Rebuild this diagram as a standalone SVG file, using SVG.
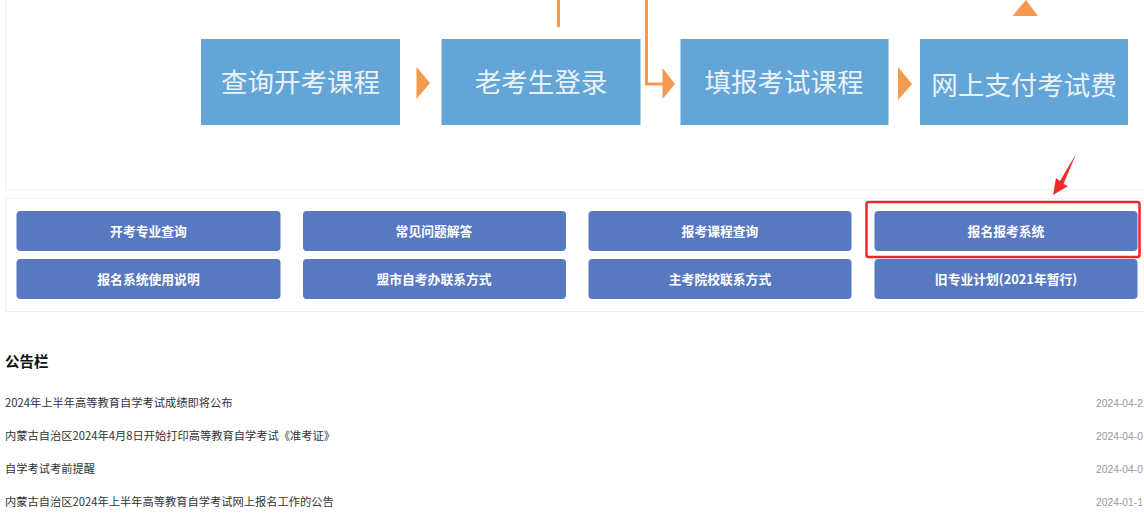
<svg xmlns="http://www.w3.org/2000/svg" width="1144" height="523" viewBox="0 0 1144 523">
<style>
text{font-family:"Noto Sans CJK SC","Noto Sans",sans-serif}
.flow rect{fill:#64a5d7}
.flow text{fill:#e8f1f8;font-size:26.500px;text-anchor:middle;dominant-baseline:central}
.btn rect{fill:#5879c1}
.btn text{fill:#fff;font-size:12.800px;font-weight:700;text-anchor:middle;dominant-baseline:central}
.item{font-size:11.250px;fill:#333}
.date{font-size:10.300px;fill:#999;font-family:"Liberation Sans",sans-serif}
.orange{fill:#f5994e}
.panel{fill:#fff;stroke:#f0f0f0;stroke-width:1}
</style>
<rect width="1144" height="523" fill="#fff"/>
<rect class="panel" x="5.500" y="-10" width="1150" height="200"/>
<rect class="panel" x="5.500" y="198.500" width="1150" height="113"/>
<g id="node-flow-1" class="flow"><rect x="201" y="39" width="199" height="86"/><text x="300.500" y="80.500">查询开考课程</text></g>
<g id="node-flow-2" class="flow"><rect x="441.500" y="39" width="199" height="86"/><text x="541" y="80.500">老考生登录</text></g>
<g id="node-flow-3" class="flow"><rect x="680.500" y="39" width="208" height="86"/><text x="784" y="80.500">填报考试课程</text></g>
<g id="node-flow-4" class="flow"><rect x="920" y="39" width="208" height="86"/><text x="1024" y="83.500">网上支付考试费</text></g>
<g id="connectors">
<polygon class="orange" points="416.500,67 430,83 416.500,99"/>
<path d="M558.500 0V27" stroke="#f5994e" stroke-width="3" fill="none"/>
<path d="M646.500 0V84H664" stroke="#f5994e" stroke-width="3" fill="none"/>
<polygon class="orange" points="662.500,68 675,84 662.500,99"/>
<polygon class="orange" points="898,67 912,84 898,100"/>
<polygon class="orange" points="1012.500,16 1026,0 1038,16"/>
<path d="M1076 154 1063.500 184 1068 186 1053 195 1056 178 1060 181Z" fill="#f22a2a"/>
</g>
<g id="btn-1" class="btn"><rect x="16.500" y="211" width="264" height="40" rx="4"/><text x="148.500" y="230.500">开考专业查询</text></g>
<g id="btn-2" class="btn"><rect x="303" y="211" width="263" height="40" rx="4"/><text x="434" y="230.500">常见问题解答</text></g>
<g id="btn-3" class="btn"><rect x="588.500" y="211" width="263" height="40" rx="4"/><text x="720" y="230.500">报考课程查询</text></g>
<g id="btn-4" class="btn"><rect x="874.500" y="211" width="263" height="40" rx="4"/><text x="1006" y="230.500">报名报考系统</text></g>
<g id="btn-5" class="btn"><rect x="16.500" y="259" width="264" height="40" rx="4"/><text x="148.500" y="278.500">报名系统使用说明</text></g>
<g id="btn-6" class="btn"><rect x="303" y="259" width="263" height="40" rx="4"/><text x="434" y="278.500">盟市自考办联系方式</text></g>
<g id="btn-7" class="btn"><rect x="588.500" y="259" width="263" height="40" rx="4"/><text x="720" y="278.500">主考院校联系方式</text></g>
<g id="btn-8" class="btn"><rect x="874.500" y="259" width="263" height="40" rx="4"/><text x="1006" y="278.500">旧专业计划(2021年暂行)</text></g>
<rect id="highlight" x="866.500" y="202" width="273" height="55" rx="2" fill="none" stroke="#ea2a2a" stroke-width="2.500"/>
<text x="5" y="366.500" style="font-size:14.500px;font-weight:700;fill:#111">公告栏</text>
<g id="notices">
<text class="item" x="5" y="407">2024年上半年高等教育自学考试成绩即将公布</text>
<text class="item" x="5" y="440">内蒙古自治区2024年4月8日开始打印高等教育自学考试《准考证》</text>
<text class="item" x="5" y="472.500">自学考试考前提醒</text>
<text class="item" x="5" y="505.500">内蒙古自治区2024年上半年高等教育自学考试网上报名工作的公告</text>
<text class="date" x="1096" y="407">2024-04-2</text>
<text class="date" x="1096" y="440">2024-04-0</text>
<text class="date" x="1096" y="472.500">2024-04-0</text>
<text class="date" x="1096" y="505.500">2024-01-1</text>
</g>
</svg>
